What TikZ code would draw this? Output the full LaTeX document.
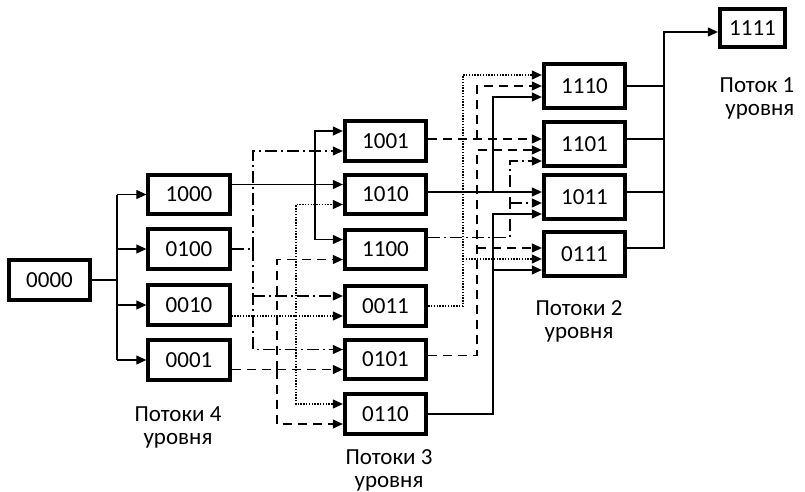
\documentclass[tikz,border=0pt]{standalone}
\usepackage{fontspec}
\setmainfont{Carlito}
\usetikzlibrary{arrows.meta}

\begin{document}
\begin{tikzpicture}[x=1pt,y=-1pt,
    box/.style={draw,line width=3.8pt,minimum width=81.5pt,minimum height=39.5pt,inner sep=0pt,font=\fontsize{23}{23}\selectfont},
    lvl/.style={align=center,font=\fontsize{23}{23}\selectfont},
    flow/.style={line width=1.2pt},
    arr/.style={flow,-{Triangle[length=10pt,width=9pt]}},
    dsh/.style={dash pattern=on 9pt off 6pt},
    dsd/.style={dash pattern=on 12pt off 4pt on 2pt off 4pt},
    dts/.style={dash pattern=on 1.4pt off 1.4pt}]
    \useasboundingbox (0,0) rectangle (805,492);

    % boxes and their input points
    \node[box] (n0000) at (49.5,280) {0000};
    \foreach \n/\y in {1000/194.5,0100/249,0010/305,0001/360}
        \node[box] (n\n) at (189,\y) {\n};
    \foreach \n/\y in {1001/141,1010/194.5,1100/249.5,0011/306,0101/359.5,0110/414}{
        \node[box] (n\n) at (385.5,\y) {\n};
        \coordinate (a\n) at ([yshift=10pt]n\n.west);
        \coordinate (b\n) at ([yshift=-10pt]n\n.west);
    }
    \foreach \n/\y/\d in {1110/86/0,1101/144/6,1011/197/6,0111/254/5}{
        \node[box,minimum height=44.5pt] (n\n) at (584.5,\y) {\n};
        \coordinate (a\n) at ([yshift={(11-\d)*1pt}]n\n.west);
        \coordinate (b\n) at ([yshift={-\d*1pt}]n\n.west);
        \coordinate (c\n) at ([yshift={(-11-\d)*1pt}]n\n.west);
    }
    \node[box,minimum width=65.5pt,minimum height=38.5pt] (n1111) at (752.5,28) {1111};
    \coordinate (a1111) at ([yshift=-4pt]n1111.west);

    % vertical buses
    \coordinate (x0) at (117,0);
    \coordinate (x1) at (315,0);
    \coordinate (x2) at (253,0);
    \coordinate (x3) at (296,0);
    \coordinate (x4) at (277,0);
    \coordinate (y1) at (477,0);
    \coordinate (y2) at (493,0);
    \coordinate (y3) at (510,0);
    \coordinate (y4) at (463,0);
    \coordinate (z0) at (664,0);

    % 0000 -> level 4
    \draw[flow] (n0000.east) -- (x0 |- n0000);
    \draw[flow] (x0 |- n1000) -- (x0 |- n0001);
    \foreach \n in {1000,0100,0010,0001}
        \draw[arr] (x0 |- n\n) -- (n\n.west);

    % level 4 -> level 3
    \draw[arr] (n1000.east |- a1010) -- (a1010);
    \draw[arr] (x1 |- a1010) |- (a1001);
    \draw[arr] (x1 |- a1010) |- (a1100);
    \draw[flow,dsd] (n0100.east) -- (x2 |- n0100);
    \draw[arr,dsd] (x2 |- n0100) |- (b1001);
    \draw[arr,dsd] (x2 |- n0100) |- (a0101);
    \draw[arr,dsd] (x2 |- a0011) -- (a0011);
    \draw[arr,dts] (n0010.east |- b0011) -- (b0011);
    \draw[arr,dts] (x3 |- b0011) |- (b1010);
    \draw[arr,dts] (x3 |- b0011) |- (a0110);
    \draw[arr,dsh] (n0001.east |- b0101) -- (b0101);
    \draw[arr,dsh] (x4 |- b0101) |- (b1100);
    \draw[arr,dsh] (x4 |- b0101) |- (b0110);

    % level 3 -> level 2
    \draw[arr,dsh] (n1001.east |- a1101) -- (a1101);
    \draw[arr,dsh] (y1 |- a1101) |- (b1110);
    \draw[arr] (n1010.east |- a1011) -- (a1011);
    \draw[arr] (y2 |- a1011) |- (c1110);
    \draw[arr,dsd] ([yshift=12pt]n1100.east) -| (y3 |- c1101) -- (c1101);
    \draw[arr,dsd] (y3 |- b1011) -- (b1011);
    \draw[arr,dts] (n0011.east) -| (y4 |- a1110) -- (a1110);
    \draw[arr,dts] (y4 |- b0111) -- (b0111);
    \draw[arr,dsh] ([yshift=4pt]n0101.east) -| (y1 |- b1101) -- (b1101);
    \draw[arr,dsh] (y1 |- a0111) -- (a0111);
    \draw[arr] (n0110.east) -| (y2 |- c1011) -- (c1011);
    \draw[arr] (y2 |- c0111) -- (c0111);

    % level 2 -> 1111
    \draw[flow] (n1110.east) -- (z0 |- n1110);
    \foreach \n in {1101,1011}
        \draw[flow] (n\n.east |- a\n) -- (z0 |- a\n);
    \draw[arr] (n0111.east |- a0111) -| (z0 |- a1111) -- (a1111);

    % level captions
    \node[lvl,align=right] (l1) at (757,98) {Поток 1\\уровня};
    \node[lvl] (l2) at (579,321) {Потоки 2\\уровня};
    \node[lvl] (l3) at (389,470) {Потоки 3\\уровня};
    \node[lvl] (l4) at (178,427) {Потоки 4\\уровня};
\end{tikzpicture}
\end{document}
